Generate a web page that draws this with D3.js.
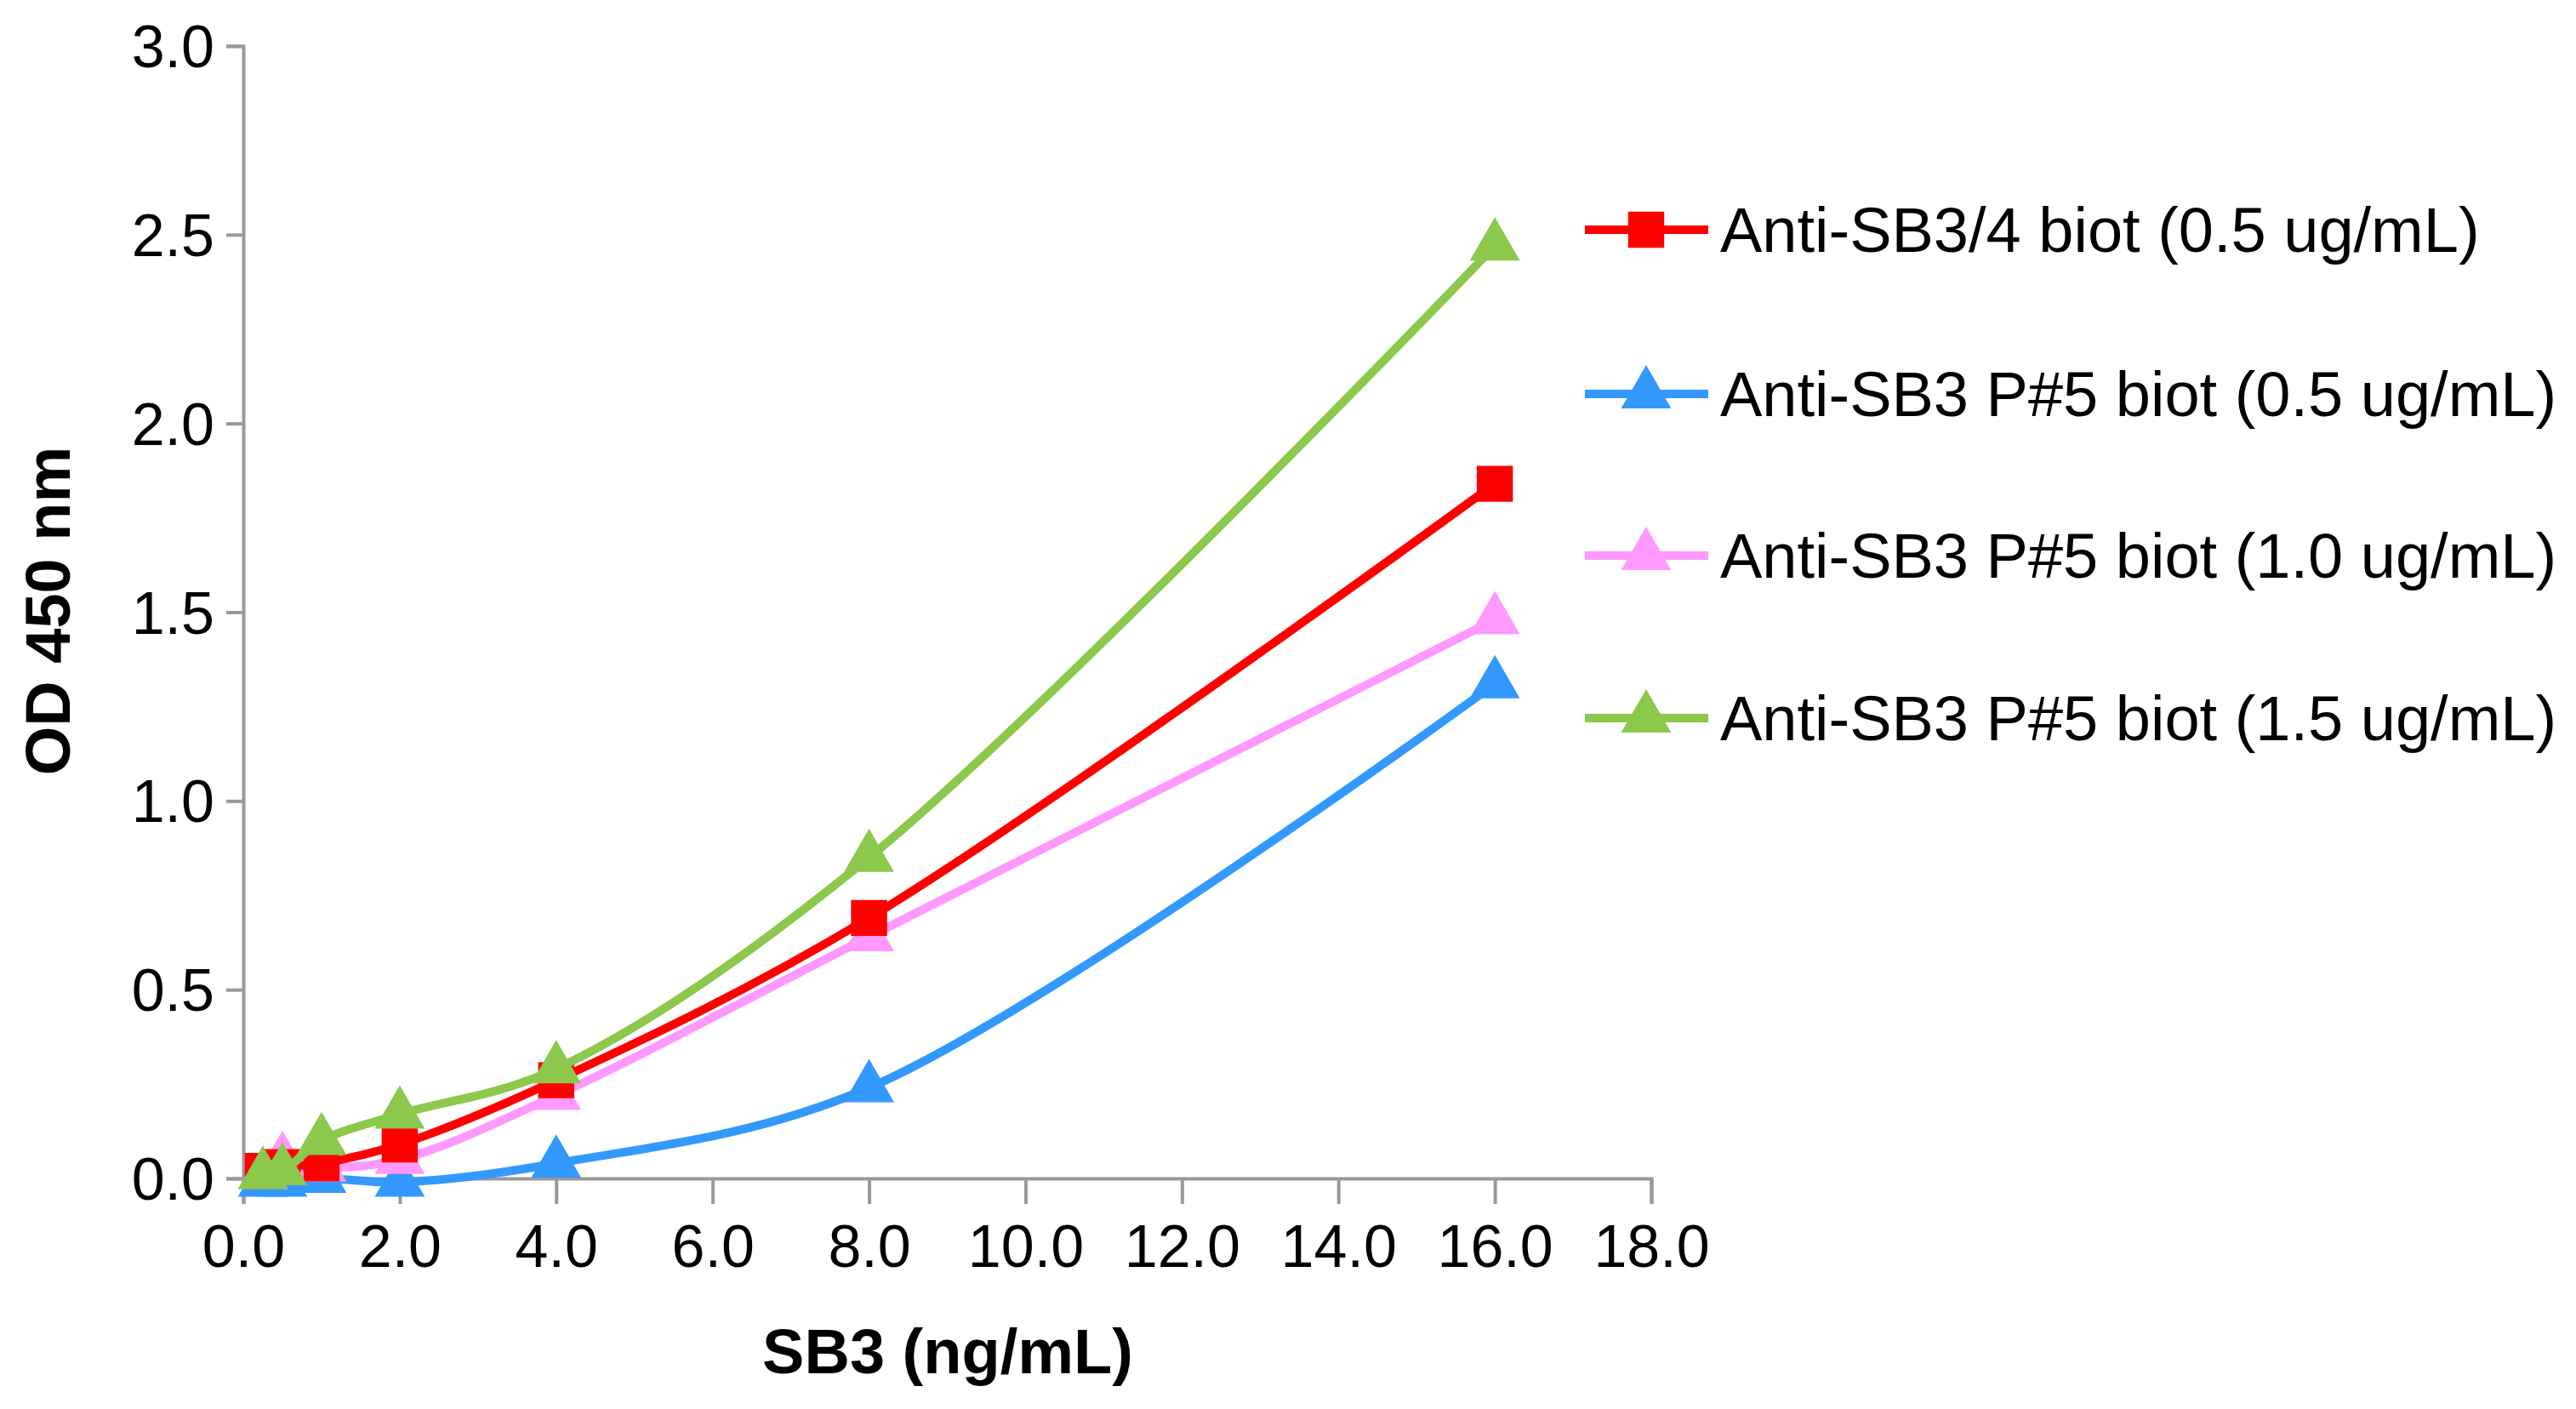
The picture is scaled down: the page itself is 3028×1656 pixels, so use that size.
<!DOCTYPE html>
<html><head><meta charset="utf-8">
<script src="https://cdn.jsdelivr.net/npm/d3@7"></script>
<style>body{margin:0;background:#fff}svg{display:block}text{font-family:"Liberation Sans",Arial,sans-serif}</style>
</head><body>
<script>
const xValues = [0.25, 0.5, 1, 2, 4, 8, 16];
const redValues = [0.02, 0.03, 0.04, 0.09, 0.26, 0.69, 1.84];
const blueValues = [-0.01, -0.01, 0.0, -0.01, 0.04, 0.24, 1.31];
const pinkValues = [0.01, 0.05, 0.03, 0.05, 0.22, 0.64, 1.48];
const greenValues = [0.01, 0.02, 0.1, 0.17, 0.29, 0.85, 2.47];
const seriesNames = ["Anti-SB3/4 biot (0.5 ug/mL)", "Anti-SB3 P#5 biot (0.5 ug/mL)", "Anti-SB3 P#5 biot (1.0 ug/mL)", "Anti-SB3 P#5 biot (1.5 ug/mL)"];
const seriesColors = ["#ff0000", "#3399ff", "#ff99ff", "#8cc84b"];
const seriesShapes = ["square", "triangle", "triangle", "triangle"];
const xTicks = [0, 2, 4, 6, 8, 10, 12, 14, 16, 18];
const yTicks = [0, 0.5, 1, 1.5, 2, 2.5, 3];

const W = 3028, H = 1656;
const svg = d3.select("body").append("svg").attr("width", W).attr("height", H);
const x = d3.scaleLinear().domain([0, 18]).range([286, 1941]);
const y = d3.scaleLinear().domain([0, 3]).range([1385, 54]);
const axisColor = "#999";

const yAxis = svg.append("g").attr("transform", `translate(${x(0)},0)`)
  .call(d3.axisLeft(y).tickValues(yTicks).tickFormat(d3.format(".1f")).tickSize(20).tickPadding(14));
const xAxis = svg.append("g").attr("transform", `translate(0,${y(0)})`)
  .call(d3.axisBottom(x).tickValues(xTicks).tickFormat(d3.format(".1f")).tickSize(30).tickPadding(24));
[xAxis, yAxis].forEach(a => {
  a.select(".domain").attr("stroke", axisColor).attr("stroke-width", 4);
  a.selectAll(".tick line").attr("stroke", axisColor).attr("stroke-width", 4);
  a.selectAll(".tick text").attr("font-size", 70).attr("fill", "#000");
});
yAxis.selectAll(".tick text").attr("dy", "0.35em");

svg.append("text").attr("transform", "translate(82,718) rotate(-90)")
  .attr("text-anchor", "middle").attr("font-size", 74).attr("font-weight", "bold").text("OD 450 nm");
svg.append("text").attr("x", 1114).attr("y", 1614)
  .attr("text-anchor", "middle").attr("font-size", 74).attr("font-weight", "bold").text("SB3 (ng/mL)");

const allValues = [redValues, blueValues, pinkValues, greenValues];
const line = d3.line().x(d => x(d[0])).y(d => y(d[1])).curve(d3.curveCatmullRom.alpha(0.5));
const sym = s => d3.symbol().type(s === "square" ? d3.symbolSquare : d3.symbolTriangle).size(s === "square" ? 1800 : 1500);

// draw order: blue, pink, red, green (green on top)
[1, 2, 0, 3].forEach(i => {
  const pts = xValues.map((xv, j) => [xv, allValues[i][j]]);
  svg.append("path").attr("d", line(pts)).attr("fill", "none")
    .attr("stroke", seriesColors[i]).attr("stroke-width", 10);
  svg.append("g").selectAll("path").data(pts).join("path")
    .attr("d", sym(seriesShapes[i])())
    .attr("transform", d => `translate(${x(d[0])},${y(d[1])})`)
    .attr("fill", seriesColors[i]);
});

const legendY = [270, 463, 653, 844];
seriesNames.forEach((name, i) => {
  const g = svg.append("g").attr("transform", `translate(0,${legendY[i]})`);
  g.append("line").attr("x1", 1863).attr("x2", 2008).attr("stroke", seriesColors[i]).attr("stroke-width", 10);
  g.append("path").attr("d", sym(seriesShapes[i])()).attr("transform", "translate(1935,0)").attr("fill", seriesColors[i]);
  g.append("text").attr("x", 2022).attr("dy", "0.35em").attr("font-size", 74).text(name);
});
</script>
</body></html>
